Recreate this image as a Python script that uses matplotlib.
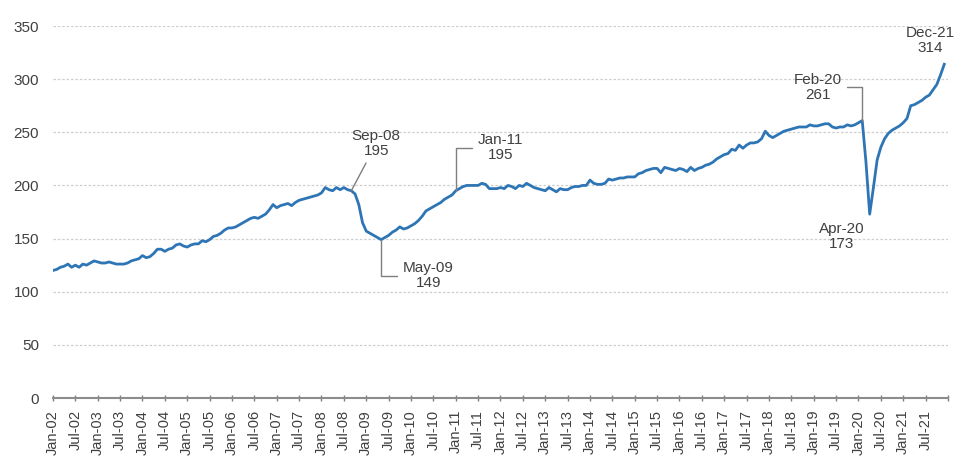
import matplotlib
matplotlib.use("Agg")
import matplotlib.pyplot as plt
import numpy as np

plt.rcParams['font.family'] = ['Liberation Sans', 'DejaVu Sans']

# Monthly index values, Jan-2002 .. Dec-2021
y2002 = [120, 121, 123, 124, 126, 123, 125, 123, 126, 125, 127, 129]
y2003 = [128, 127, 127, 128, 127, 126, 126, 126, 127, 129, 130, 131]
y2004 = [134, 132, 133, 136, 140, 140, 138, 140, 141, 144, 145, 143]
y2005 = [142, 144, 145, 145, 148, 147, 149, 152, 153, 155, 158, 160]
y2006 = [160, 161, 163, 165, 167, 169, 170, 169, 171, 173, 177, 182]
y2007 = [179, 181, 182, 183, 181, 184, 186, 187, 188, 189, 190, 191]
y2008 = [193, 198, 196, 195, 198, 196, 198, 196, 195, 192, 182, 165]
y2009 = [157, 155, 153, 151, 149, 151, 153, 156, 158, 161, 159, 160]
y2010 = [162, 164, 167, 171, 176, 178, 180, 182, 184, 187, 189, 191]
y2011 = [195, 197, 199, 200, 200, 200, 200, 202, 201, 197, 197, 197]
y2012 = [198, 197, 200, 199, 197, 200, 199, 202, 200, 198, 197, 196]
y2013 = [195, 198, 196, 194, 197, 196, 196, 198, 199, 199, 200, 200]
y2014 = [205, 202, 201, 201, 202, 206, 205, 206, 207, 207, 208, 208]
y2015 = [208, 211, 212, 214, 215, 216, 216, 212, 217, 216, 215, 214]
y2016 = [216, 215, 213, 217, 214, 216, 217, 219, 220, 222, 225, 227]
y2017 = [229, 230, 234, 233, 238, 235, 238, 240, 240, 241, 244, 251]
y2018 = [247, 245, 247, 249, 251, 252, 253, 254, 255, 255, 255, 257]
y2019 = [256, 256, 257, 258, 258, 255, 254, 255, 255, 257, 256, 257]
y2020 = [259, 261, 222, 173, 198, 224, 236, 244, 249, 252, 254, 256]
y2021 = [259, 263, 275, 276, 278, 280, 283, 285, 290, 295, 304, 314]

years = list(range(2002, 2022))
months = ["Jan", "Feb", "Mar", "Apr", "May", "Jun",
          "Jul", "Aug", "Sep", "Oct", "Nov", "Dec"]

values = np.array(y2002 + y2003 + y2004 + y2005 + y2006 + y2007 + y2008 +
                  y2009 + y2010 + y2011 + y2012 + y2013 + y2014 + y2015 +
                  y2016 + y2017 + y2018 + y2019 + y2020 + y2021)
labels = [f"{m}-{y % 100:02d}" for y in years for m in months]
x = np.arange(len(values))

# callouts: (label, text offset in points, leader style or None)
callouts = [
    ("Sep-08", (18, 34), "arc3"),
    ("May-09", (34, -26), "angle,angleA=0,angleB=90,rad=0"),
    ("Jan-11", (32, 31), "angle,angleA=0,angleB=90,rad=0"),
    ("Feb-20", (-32, 24), "angle,angleA=0,angleB=90,rad=0"),
    ("Apr-20", (-20, -16), None),
    ("Dec-21", (-10, 17), None),
]

fig = plt.figure(figsize=(9.6, 4.57), dpi=100)
ax = fig.add_axes([0.0552, 0.1291, 0.9323, 0.814])

line_color = "#2E75B6"
text_color = "#404040"

ax.plot(x, values, color=line_color, lw=2.0, solid_joinstyle="round", zorder=3)

ax.set_xlim(0, 240)
ax.set_ylim(0, 350)
ax.set_yticks(np.arange(0, 351, 50))
ax.yaxis.grid(True, color="#cfcfcf", lw=0.9, linestyle=(0, (2, 1.5)))
ax.set_axisbelow(True)

tick_pos = list(range(0, 240, 6))
ax.set_xticks(tick_pos)
ax.set_xticklabels([labels[i] for i in tick_pos], rotation=90,
                   fontsize=10.5, color=text_color)
ax.set_xticks([240], minor=True)
ax.tick_params(axis="x", which="both", direction="inout", length=5,
               width=1, color="#7f7f7f", pad=6)
ax.tick_params(axis="y", length=0, pad=10, labelsize=11, labelcolor=text_color)

for side in ("left", "right", "top"):
    ax.spines[side].set_visible(False)
ax.spines["bottom"].set_color("#8c8c8c")
ax.spines["bottom"].set_linewidth(1.5)

for name, offset, style in callouts:
    i = labels.index(name)
    v = values[i]
    kw = {}
    if style is not None:
        kw["arrowprops"] = dict(arrowstyle="-", color="#7f7f7f", lw=1.0,
                                connectionstyle=style, shrinkA=2, shrinkB=0)
    ax.annotate(f"{name}\n{v}", xy=(i, v), xytext=offset,
                textcoords="offset points", ha="center", va="center",
                fontsize=11, color=text_color, linespacing=1.05, **kw)

fig.savefig("out.png", dpi=100)
